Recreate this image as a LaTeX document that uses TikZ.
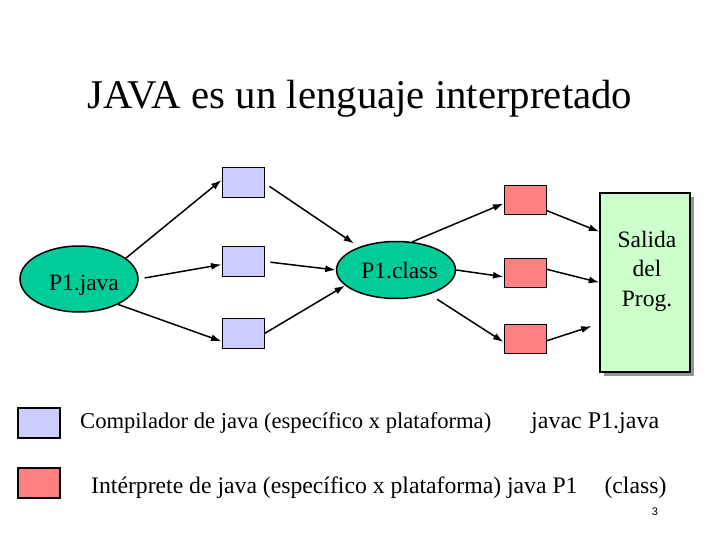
\documentclass[tikz,border=0pt]{standalone}
\usepackage{fontspec}
\setmainfont{Liberation Serif}
\newfontfamily\pagenumfont{Liberation Sans}
\usetikzlibrary{shapes.geometric,arrows.meta,calc}
\definecolor{ovalgreen}{RGB}{0,204,153}
\definecolor{compblue}{RGB}{204,204,255}
\definecolor{intred}{RGB}{255,128,128}
\definecolor{outgreen}{RGB}{204,255,204}
\definecolor{shadowgray}{RGB}{150,150,150}
\tikzset{
  oval/.style={ellipse, draw=black, line width=1.5pt, fill=ovalgreen, inner sep=0pt},
  compbox/.style={rectangle, draw=black, line width=1pt, fill=compblue, minimum width=42pt, minimum height=30pt, inner sep=0pt},
  intbox/.style={rectangle, draw=black, line width=1pt, fill=intred, minimum width=42pt, minimum height=29pt, inner sep=0pt},
  legbox/.style={rectangle, draw=black, line width=2pt, minimum width=42pt, minimum height=30pt, inner sep=0pt},
  flow/.style={draw=black, line width=1.5pt, -{Latex[length=10.5pt,width=7pt]}},
  lbl/.style={font=\fontsize{23.5}{28}\selectfont, inner sep=0pt},
  legtext/.style={inner sep=0pt, anchor=base west},
}
\begin{document}
\begin{tikzpicture}[x=1pt,y=-1pt]
\useasboundingbox[fill=white] (0,0) rectangle (720,540);

% title
\node[font=\fontsize{40.8}{48}\selectfont, inner sep=0pt, anchor=base] (title) at (360,109) {JAVA es un lenguaje interpretado};

% source oval
\node[oval, minimum width=118pt, minimum height=66pt] (j) at (79,279) {};
\node[lbl, anchor=base] (jt) at (84,290) {P1.java};

% compilers
\node[compbox] (b1) at (243,183) {};
\node[compbox] (b2) at (243,261.5) {};
\node[compbox] (b3) at (243,333.5) {};

% class oval
\node[oval, minimum width=119pt, minimum height=57pt] (c) at (396,270) {};
\node[lbl, anchor=base] (ct) at (399.5,278) {P1.class};

% interpreters
\node[intbox] (r1) at (525,200.5) {};
\node[intbox] (r2) at (525,273) {};
\node[intbox] (r3) at (525,339) {};

% output box with shadow
\fill[shadowgray] (604,197) rectangle (694,376);
\node[rectangle, draw=black, line width=1.5pt, fill=outgreen, minimum width=90pt, minimum height=179pt, inner sep=0pt] (s) at (645,282.5) {};
\node[lbl, align=center, font=\fontsize{23.5}{29.5}\selectfont] (st) at (647,271) {Salida\\del\\Prog.};

% arrows P1.java -> compilers
\draw[flow] (j.24.5) -- (b1.172);
\draw[flow, shorten <=6pt] (j.east) -- (b2.188);
\draw[flow] (j.-33.4) -- (b3.200);

% arrows compilers -> P1.class
\draw[flow, shorten <=6pt, shorten >=6pt] (b1.east) -- (c.148);
\draw[flow, shorten <=6pt] (b2.east) -- (c.west);
\draw[flow] (b3.east) -- (c.197);

% arrows P1.class -> interpreters
\draw[flow] (c.60) -- (r1.188);
\draw[flow] (c.east) -- (r2.190);
\draw[flow, shorten <=9pt] (c.-36) -- (r3.188);

% arrows interpreters -> output
\draw[flow] (r1.-25) -- (s.132.3);
\draw[flow] (r2.10) -- (s.west);
\draw[flow, shorten >=8pt] (r3.-5) -- (s.222.7);

% legend
\node[legbox, fill=compblue] (lb) at (39,423) {};
\node[legbox, fill=intred] (lr) at (39,483) {};
\node[legtext, font=\fontsize{22.6}{27}\selectfont] (lbt) at (80,428) {Compilador de java (específico x plataforma)\hspace*{40pt}{\fontsize{24}{28}\selectfont javac P1.java}};
\node[legtext, font=\fontsize{23.7}{28}\selectfont] (lrt) at (91,493) {Intérprete de java (específico x plataforma) java P1\hspace*{27pt}(class)};

% page number
\node[font=\pagenumfont\fontsize{11}{13}\selectfont, inner sep=0pt] (pn) at (655,512) {3};
\end{tikzpicture}
\end{document}
